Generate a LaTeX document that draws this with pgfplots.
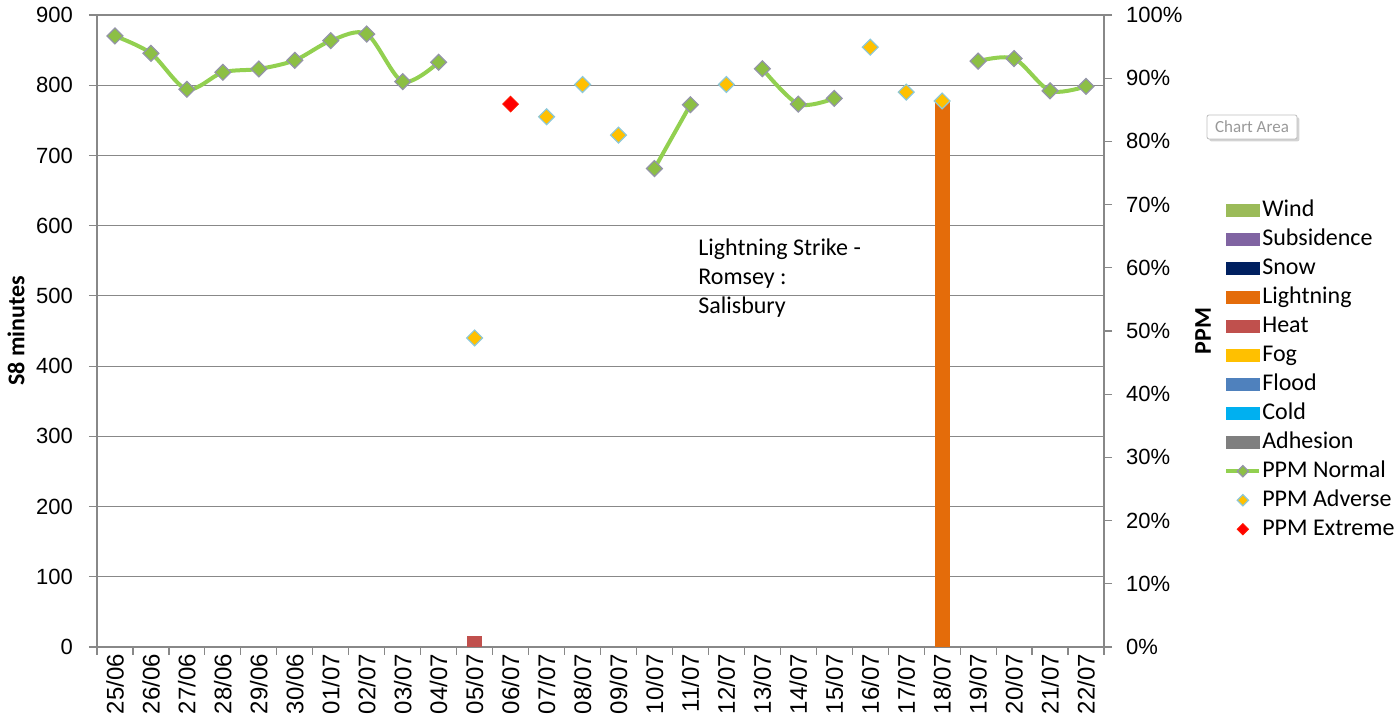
\documentclass[border=0pt]{standalone}
\usepackage{pgfplots}
\pgfplotsset{compat=1.18}
\usepackage{fontspec}
\setmainfont{Carlito}
\newfontfamily\tickfont{Liberation Sans}
\usetikzlibrary{shadows}
\definecolor{windc}{HTML}{9BBB59}
\definecolor{subsc}{HTML}{8064A2}
\definecolor{snowc}{HTML}{002060}
\definecolor{lightc}{HTML}{E46C0A}
\definecolor{heatc}{HTML}{C0504D}
\definecolor{fogc}{HTML}{FFC000}
\definecolor{floodc}{HTML}{4F81BD}
\definecolor{coldc}{HTML}{00B0F0}
\definecolor{adhc}{HTML}{7F7F7F}
\definecolor{ppmline}{HTML}{92D050}
\definecolor{ppmmark}{HTML}{8CBF44}
\definecolor{ppmedge}{HTML}{9494A8}
\definecolor{advedge}{HTML}{8CC8D8}
\definecolor{axisgray}{HTML}{888888}
\pgfplotsset{
  normal/.style={color=ppmline, line width=2pt, smooth, mark=square*, mark size=2.8pt,
    mark options={rotate=45, fill=ppmmark, draw=ppmedge, line width=0.6pt}},
  adverse/.style={only marks, mark=square*, mark size=2.8pt,
    mark options={rotate=45, fill=fogc, draw=advedge, line width=0.6pt}},
  extreme/.style={only marks, mark=square*, mark size=2.8pt,
    mark options={rotate=45, fill=red, draw=red!80!orange, line width=0.4pt}},
  normalleg/.style={legend image code/.code={\draw[##1, mark size=2pt, mark repeat=2, mark phase=2] plot coordinates {(0pt,0pt) (8.25pt,0pt) (16.5pt,0pt)};}},
  markleg/.style={legend image code/.code={\draw[##1, mark size=2pt] plot coordinates {(8.25pt,0pt)};}},
  common/.style={width=503.5pt, height=316pt, scale only axis,
    xmin=-0.5, xmax=27.5,
    tick align=outside, major tick length=4pt,
    tick style={draw=axisgray, line width=0.6pt},
    axis line style={draw=axisgray, line width=0.6pt},
    /pgf/number format/assume math mode=true,
  },
}
\begin{document}
\begin{tikzpicture}
\begin{axis}[common,
  ymin=0, ymax=900,
  axis x line*=bottom, axis y line*=left,
  ytick={0,100,...,900},
  yticklabel style={font=\tickfont\fontsize{11}{13}\selectfont, xshift=-4.5pt},
  ymajorgrids, grid style={draw=axisgray, line width=0.6pt},
  xtick={-0.5,0.5,...,27.5}, xticklabels={},
  extra x ticks={0,1,...,27},
  extra x tick labels={25/06,26/06,27/06,28/06,29/06,30/06,01/07,02/07,03/07,04/07,05/07,06/07,07/07,08/07,09/07,10/07,11/07,12/07,13/07,14/07,15/07,16/07,17/07,18/07,19/07,20/07,21/07,22/07},
  extra x tick style={major tick length=0pt, tick style={draw=none}},
  xticklabel style={rotate=90, anchor=east, font=\tickfont\fontsize{12}{14}\selectfont},
  ylabel={\bfseries S8 minutes},
  ylabel style={at={([xshift=-40.5pt]rel axis cs:0,0.5)}, anchor=center, font=\fontsize{12}{14}\selectfont},
]
\addplot[ybar, bar width=7.5pt, bar shift=0pt, fill=heatc, draw=none] coordinates {(10,15)};
\addplot[ybar, bar width=7.5pt, bar shift=0pt, fill=lightc, draw=none] coordinates {(23,778)};
\node[anchor=north west, align=left, inner sep=0pt, font=\fontsize{12}{14.5}\selectfont] at (axis cs:16.21,582) {Lightning Strike -\\Romsey :\\Salisbury};
\end{axis}
\begin{axis}[common,
  ymin=0, ymax=100,
  axis y line*=right, axis x line=none,
  ytick={0,10,...,100},
  yticklabel={\pgfmathprintnumber{\tick}\%},
  yticklabel style={font=\tickfont\fontsize{11}{13}\selectfont, xshift=3.5pt},
  ylabel={\bfseries PPM},
  ylabel style={at={([xshift=49.5pt]rel axis cs:1,0.5)}, anchor=center, rotate=0, font=\fontsize{12}{14}\selectfont},
  legend style={at={(1.1191,0.7107)}, anchor=north west, draw=none, fill=none, inner sep=0pt,
    font=\fontsize{12}{14}\selectfont, row sep=2.5pt,
    nodes={inner xsep=0.5pt, inner ysep=0pt, text height=9pt, text depth=3pt}},
  legend cell align=left,
]
\addlegendimage{legend image code/.code={\fill[windc] (0pt,-3pt) rectangle (16.5pt,3pt);}}\addlegendentry{Wind}
\addlegendimage{legend image code/.code={\fill[subsc] (0pt,-3pt) rectangle (16.5pt,3pt);}}\addlegendentry{Subsidence}
\addlegendimage{legend image code/.code={\fill[snowc] (0pt,-3pt) rectangle (16.5pt,3pt);}}\addlegendentry{Snow}
\addlegendimage{legend image code/.code={\fill[lightc] (0pt,-3pt) rectangle (16.5pt,3pt);}}\addlegendentry{Lightning}
\addlegendimage{legend image code/.code={\fill[heatc] (0pt,-3pt) rectangle (16.5pt,3pt);}}\addlegendentry{Heat}
\addlegendimage{legend image code/.code={\fill[fogc] (0pt,-3pt) rectangle (16.5pt,3pt);}}\addlegendentry{Fog}
\addlegendimage{legend image code/.code={\fill[floodc] (0pt,-3pt) rectangle (16.5pt,3pt);}}\addlegendentry{Flood}
\addlegendimage{legend image code/.code={\fill[coldc] (0pt,-3pt) rectangle (16.5pt,3pt);}}\addlegendentry{Cold}
\addlegendimage{legend image code/.code={\fill[adhc] (0pt,-3pt) rectangle (16.5pt,3pt);}}\addlegendentry{Adhesion}
\addplot[normal, normalleg]
  coordinates {(0,96.68) (1,93.94) (2,88.24) (3,90.93) (4,91.46) (5,92.83) (6,95.93) (7,96.99) (8,89.45) (9,92.52)};
\addlegendentry{PPM Normal}
\addplot[normal, forget plot] coordinates {(15,75.7) (16,85.8)};
\addplot[normal, forget plot] coordinates {(18,91.5) (19,85.9) (20,86.8)};
\addplot[normal, forget plot] coordinates {(24,92.7) (25,93.1) (26,88.0) (27,88.7)};
\addplot[adverse, markleg]
  coordinates {(10,48.9) (12,83.9) (13,89.0) (14,81.0) (17,89.0) (21,94.9) (22,87.8) (23,86.4)};
\addlegendentry{PPM Adverse}
\addplot[extreme, markleg]
  coordinates {(11,85.9)};
\addlegendentry{PPM Extreme}
\end{axis}
\node[draw=gray!50, fill=white, rounded corners=1pt, minimum width=45pt, minimum height=12pt, inner sep=0pt,
  font=\fontsize{8.5}{10}\selectfont, text=gray!80, drop shadow={opacity=0.35, shadow xshift=1.2pt, shadow yshift=-1.2pt}] at (577.5pt,260pt) {Chart Area};
\pgfresetboundingbox
\path[use as bounding box] (-48.5pt,-39.5pt) rectangle (650pt,323.5pt);
\end{tikzpicture}
\end{document}
